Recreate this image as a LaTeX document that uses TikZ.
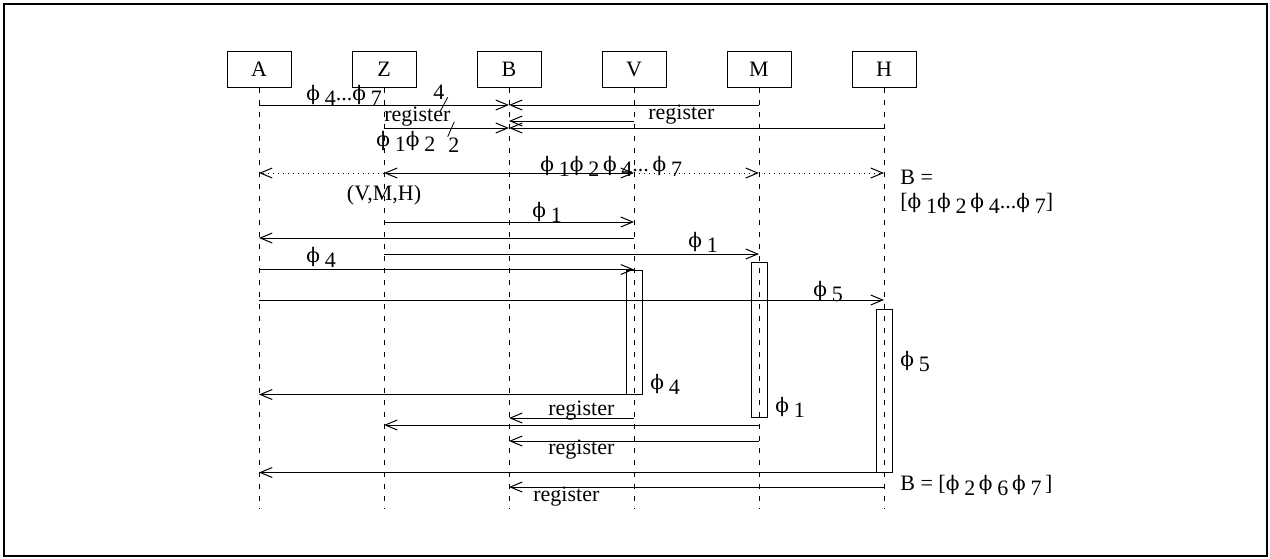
\documentclass[tikz,border=0pt]{standalone}
\usepackage{fontspec}
\setmainfont{Liberation Serif}
\newfontfamily\phfont{DejaVu Serif}
\usetikzlibrary{arrows.meta}
\newcommand\ph[1]{{\phfont\fontsize{10}{11}\selectfont ϕ}\hspace{0.22em}\raisebox{-2.8pt}{#1}}
\tikzset{
  head/.style={draw,line width=0.5pt,minimum width=32pt,minimum height=18pt,inner sep=0pt},
  life/.style={dash pattern=on 2.5pt off 3.5pt,line width=0.4pt},
  msg/.style={-{Straight Barb[length=6pt,width=5pt]},line width=0.5pt},
  act/.style={draw,line width=0.5pt,minimum width=8pt,inner sep=0pt},
  lbl/.style={inner sep=0pt,anchor=base west}
}
\begin{document}
\begin{tikzpicture}[x=0.5pt,y=-0.5pt,font=\fontsize{11}{13}\selectfont]
			\useasboundingbox (0,0) rectangle (1270,558);
			\draw[line width=1pt] (4,4) rectangle (1267,556);

			\foreach \n/\x in {A/259,Z/384,B/509,V/634,M/759,H/884}{
			    \node[head] (\n) at (\x,69) {\n};
			    \draw[life] (\n.south) -- (\n |- 0,508);
			}

			\node[act,minimum height=62pt] (Vact) at (634,332) {};
			\node[act,minimum height=77.5pt] (Mact) at (759,339.5) {};
			\node[act,minimum height=81.5pt] (Hact) at (884,390.5) {};

			\draw[msg] (A |- 0,105) -- (B |- 0,105);
			\draw[msg] (M |- 0,105) -- (B |- 0,105);
			\draw[msg] (V |- 0,121) -- (B |- 0,121);
			\draw[msg] (Z |- 0,128) -- (B |- 0,128);
			\draw[msg] (H |- 0,128) -- (B |- 0,128);

			\draw[msg] (B |- 0,173) -- (Z |- 0,173);
			\draw[msg,dotted] (Z |- 0,173) -- (A |- 0,173);
			\draw[msg] (B |- 0,173) -- (V |- 0,173);
			\draw[msg,dotted] (V |- 0,173) -- (M |- 0,173);
			\draw[msg,dotted] (M |- 0,173) -- (H |- 0,173);

			\draw[msg] (Z |- 0,222) -- (V |- 0,222);
			\draw[msg] (V |- 0,238) -- (A |- 0,238);
			\draw[msg] (Z |- 0,254) -- (M |- 0,254);
			\draw[msg] (A |- Vact.north) -- (V |- Vact.north);
			\draw[msg] (A |- 0,300) -- (H |- 0,300);

			\draw[msg] (Vact.south east) -- (A |- Vact.south);
			\draw[msg] (V |- 0,418) -- (B |- 0,418);
			\draw[msg] (M |- 0,425) -- (Z |- 0,425);
			\draw[msg] (M |- 0,441) -- (B |- 0,441);
			\draw[msg] (Hact.south east) -- (A |- Hact.south);
			\draw[msg] (H |- 0,487) -- (B |- 0,487);

			\node[lbl] (l1) at (306,100) {\ph{4}...\ph{7}};
			\node[lbl] (l2) at (433,99) {4};
			\draw (447.7,97.3) -- (440,111.7);
			\node[lbl] (l3) at (384,121) {register};
			\node[lbl] (l4) at (376,146) {\ph{1}\ph{2}};
			\node[lbl] (l5) at (448,152) {2};
			\draw (454.3,121.7) -- (447.7,136.7);
			\node[lbl] (l6) at (648,119) {register};

			\node[lbl] (l7) at (540,171) {\ph{1}\ph{2}\,\ph{4}...\,\ph{7}};
			\node[lbl] (l8) at (900,184) {B =};
			\node[lbl] (l9) at (900,208) {[\ph{1}\ph{2}\,\ph{4}...\ph{7}]};
			\node[inner sep=0pt,anchor=base] (l10) at (384,200) {(V,M,H)};

			\node[lbl] (l11) at (532,217) {\ph{1}};
			\node[lbl] (l12) at (688,247) {\ph{1}};
			\node[lbl] (l13) at (306,262) {\ph{4}};
			\node[lbl] (l14) at (813,296) {\ph{5}};
			\node[lbl] (l15) at (900,366) {\ph{5}};
			\node[lbl] (l16) at (650,389) {\ph{4}};
			\node[lbl] (l17) at (775,412) {\ph{1}};

			\node[lbl] (l18) at (548,415) {register};
			\node[lbl] (l19) at (548,454) {register};
			\node[lbl] (l20) at (533,501) {register};
			\node[lbl] (l21) at (900,490) {B = [\ph{2}\,\ph{6}\,\ph{7}\,]};
\end{tikzpicture}
\end{document}
